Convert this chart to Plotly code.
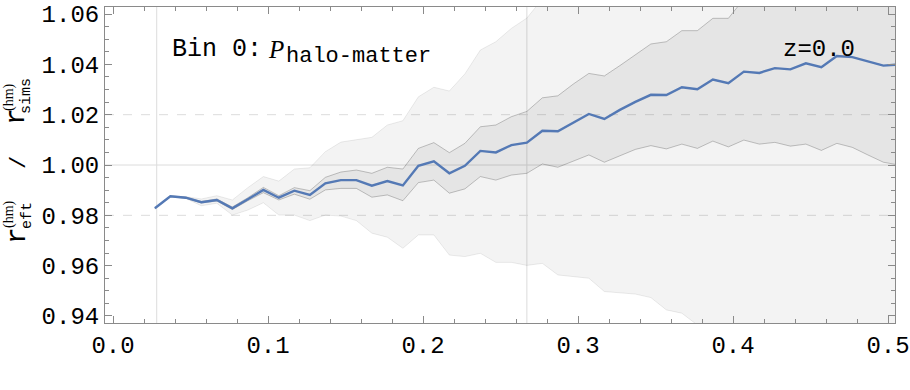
import plotly.graph_objects as go

# ---------------- data ----------------
k = [0.027, 0.037, 0.047, 0.057, 0.067, 0.077, 0.087, 0.097, 0.107, 0.117,
     0.127, 0.137, 0.147, 0.157, 0.167, 0.177, 0.187, 0.197, 0.207, 0.217,
     0.227, 0.237, 0.247, 0.257, 0.267, 0.277, 0.287, 0.297, 0.307, 0.317,
     0.327, 0.337, 0.347, 0.357, 0.367, 0.377, 0.387, 0.397, 0.407, 0.417,
     0.427, 0.437, 0.447, 0.457, 0.467, 0.477, 0.487, 0.497, 0.507]

ratio = [0.9828, 0.9876, 0.9870, 0.9852, 0.9861, 0.9828, 0.9864, 0.9901, 0.9870, 0.9898,
         0.9881, 0.9927, 0.9940, 0.9940, 0.9918, 0.9936, 0.9919, 0.9997, 1.0015, 0.9967,
         0.9997, 1.0056, 1.0050, 1.0079, 1.0089, 1.0136, 1.0134, 1.0170, 1.0203, 1.0183,
         1.0219, 1.0251, 1.0279, 1.0278, 1.0309, 1.0301, 1.0340, 1.0325, 1.0371, 1.0366,
         1.0385, 1.0380, 1.0404, 1.0389, 1.0433, 1.0429, 1.0412, 1.0395, 1.0400]

inner_hi = [0.9829, 0.9877, 0.9872, 0.9855, 0.9865, 0.9833, 0.9870, 0.9911, 0.9878, 0.9910,
            0.9898, 0.9951, 0.9972, 0.9980, 0.9967, 0.9991, 0.9984, 1.0066, 1.0089, 1.0049,
            1.0086, 1.0152, 1.0159, 1.0192, 1.0213, 1.0267, 1.0275, 1.0322, 1.0364, 1.0354,
            1.0395, 1.0437, 1.0481, 1.0490, 1.0534, 1.0534, 1.0583, 1.0583, 1.0660, 1.0680,
            1.0710, 1.0720, 1.0750, 1.0760, 1.0800, 1.0810, 1.0820, 1.0830, 1.0840]

inner_lo = [0.9827, 0.9874, 0.9868, 0.9849, 0.9857, 0.9823, 0.9858, 0.9890, 0.9861, 0.9884,
            0.9864, 0.9901, 0.9907, 0.9907, 0.9872, 0.9881, 0.9858, 0.9930, 0.9940, 0.9888,
            0.9905, 0.9954, 0.9940, 0.9960, 0.9967, 1.0004, 0.9991, 1.0017, 1.0040, 1.0011,
            1.0037, 1.0062, 1.0077, 1.0064, 1.0083, 1.0066, 1.0095, 1.0072, 1.0099, 1.0083,
            1.0090, 1.0075, 1.0083, 1.0058, 1.0086, 1.0070, 1.0040, 1.0011, 1.0000]

outer_hi = [0.9829, 0.9878, 0.9874, 0.9865, 0.9878, 0.9861, 0.9910, 0.9954, 0.9936, 0.9984,
            0.9989, 1.0053, 1.0091, 1.0102, 1.0110, 1.0159, 1.0176, 1.0271, 1.0309, 1.0294,
            1.0362, 1.0457, 1.0490, 1.0543, 1.0584, 1.0660, 1.0720, 1.0760, 1.0800, 1.0830,
            1.0870, 1.0910, 1.0950, 1.0980, 1.1020, 1.1040, 1.1080, 1.1100, 1.1140, 1.1160,
            1.1190, 1.1210, 1.1240, 1.1260, 1.1300, 1.1310, 1.1320, 1.1330, 1.1340]

outer_lo = [0.9827, 0.9874, 0.9867, 0.9838, 0.9848, 0.9801, 0.9821, 0.9850, 0.9801, 0.9801,
            0.9779, 0.9801, 0.9797, 0.9779, 0.9729, 0.9713, 0.9669, 0.9722, 0.9722, 0.9642,
            0.9636, 0.9649, 0.9613, 0.9613, 0.9601, 0.9609, 0.9563, 0.9556, 0.9550, 0.9497,
            0.9493, 0.9487, 0.9473, 0.9424, 0.9411, 0.9364, 0.9340, 0.9310, 0.9280, 0.9260,
            0.9230, 0.9210, 0.9180, 0.9160, 0.9130, 0.9110, 0.9090, 0.9070, 0.9050]

x_ticks = [0.0, 0.1, 0.2, 0.3, 0.4, 0.5]
y_ticks = [0.94, 0.96, 0.98, 1.00, 1.02, 1.04, 1.06]
k_lines = [0.0282, 0.267]

MONO = "Courier New, Courier, Nimbus Mono PS, FreeMono, Liberation Mono, monospace"
SERIF = "Liberation Serif"

# ---------------- figure ----------------
fig = go.Figure()

# outer (light) band
fig.add_trace(go.Scatter(x=k, y=outer_lo, mode="lines",
                         line=dict(color="rgba(0,0,0,0.08)", width=1),
                         hoverinfo="skip", showlegend=False))
fig.add_trace(go.Scatter(x=k, y=outer_hi, mode="lines", fill="tonexty",
                         fillcolor="rgba(0,0,0,0.047)",
                         line=dict(color="rgba(0,0,0,0.08)", width=1),
                         hoverinfo="skip", showlegend=False))
# inner (darker) band
fig.add_trace(go.Scatter(x=k, y=inner_lo, mode="lines",
                         line=dict(color="rgba(0,0,0,0.22)", width=1),
                         hoverinfo="skip", showlegend=False))
fig.add_trace(go.Scatter(x=k, y=inner_hi, mode="lines", fill="tonexty",
                         fillcolor="rgba(0,0,0,0.055)",
                         line=dict(color="rgba(0,0,0,0.22)", width=1),
                         hoverinfo="skip", showlegend=False))
# central ratio
fig.add_trace(go.Scatter(x=k, y=ratio, mode="lines",
                         line=dict(color="#5479b5", width=2.4),
                         showlegend=False))

# grid lines
for yv, dash in [(0.98, "dash"), (1.00, "solid"), (1.02, "dash")]:
    fig.add_shape(type="line", xref="paper", x0=0, x1=1, yref="y", y0=yv, y1=yv,
                  line=dict(color="#dcdcdc", width=1, dash=dash), layer="below")
for xv in k_lines:
    fig.add_shape(type="line", xref="x", x0=xv, x1=xv, yref="paper", y0=0, y1=1,
                  line=dict(color="#dcdcdc", width=1), layer="below")

# ---- text ----
L, R, T, B = 105, 15, 7, 67
W, H = 910, 390


def pxx(p):
    return (p - L) / (W - L - R)


def pxy(p):
    return (H - B - p) / (H - T - B)


def note(text, x, y, size, family=MONO, xa="center", ya="middle", angle=0):
    fig.add_annotation(text=text, xref="paper", yref="paper", x=pxx(x), y=pxy(y),
                       xanchor=xa, yanchor=ya, showarrow=False, textangle=angle,
                       font=dict(family=family, size=size, color="black"))


note("Bin 0:", 170, 50, 25, xa="left")
note("<i>P</i>", 266, 50, 25, family=SERIF, xa="left")
note("halo-matter", 284, 56, 22, xa="left")
note("z=0.0", 819, 50, 24)

# rotated y label
note("r", 17, 117, 28, angle=-90)
note("sims", 27, 96, 15, angle=-90)
note("(hm)", 9, 97, 14, family=SERIF, angle=-90)
note("/", 19, 163, 22, angle=-90)
note("r", 17, 236, 28, angle=-90)
note("eft", 27, 216, 15, angle=-90)
note("(hm)", 9, 214, 14, family=SERIF, angle=-90)

axis_common = dict(showline=True, linecolor="#8a8a8a", linewidth=1, mirror="ticks",
                   ticks="inside", tickcolor="#8a8a8a", ticklen=7, showgrid=False,
                   zeroline=False, automargin=False,
                   tickfont=dict(family=MONO, size=24, color="black"))

fig.update_xaxes(range=[-0.00516, 0.5045], tickvals=x_ticks, tickformat=".1f",
                 minor=dict(ticks="inside", ticklen=4, dtick=0.02, tick0=0,
                            tickcolor="#8a8a8a"),
                 **axis_common)
fig.update_yaxes(range=[0.9372, 1.0628], tickvals=y_ticks, tickformat=".2f",
                 minor=dict(ticks="inside", ticklen=4, dtick=0.005, tick0=0.94,
                            tickcolor="#8a8a8a"),
                 **axis_common)

fig.update_layout(width=W, height=H, margin=dict(l=L, r=R, t=T, b=B),
                  plot_bgcolor="white", paper_bgcolor="white")

# the page body has a default 8px margin; drop it so the figure sits at 0,0
fig.write_html("out.html", config={"displayModeBar": False},
               post_script="document.body.style.margin='0';"
                           "document.body.style.overflow='hidden';")
